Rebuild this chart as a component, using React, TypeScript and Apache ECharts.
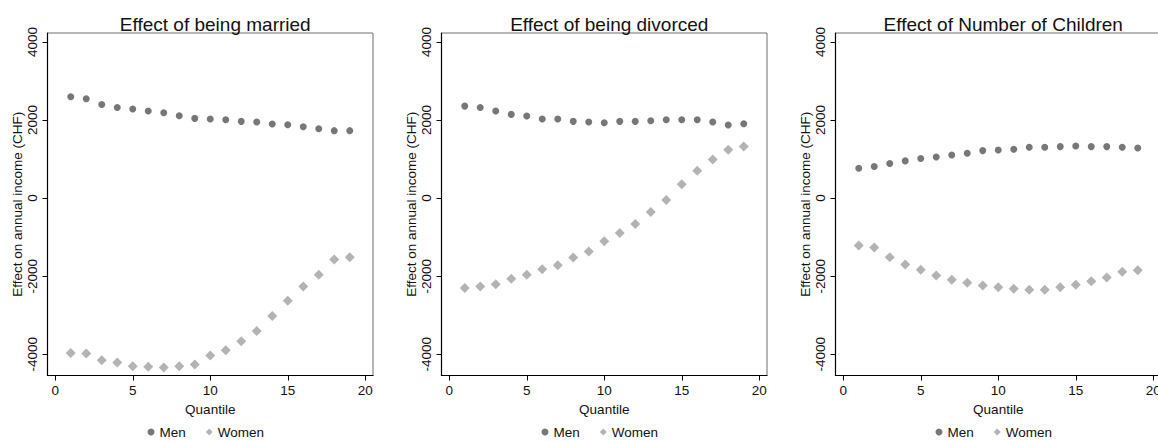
import React, { useEffect, useRef } from "react";
import * as echarts from "echarts";

const quantiles = [1, 2, 3, 4, 5, 6, 7, 8, 9, 10, 11, 12, 13, 14, 15, 16, 17, 18, 19];

const marriedMen = [2596, 2545, 2400, 2323, 2281, 2230, 2187, 2110, 2042, 2025, 2008, 1966, 1949, 1898, 1881, 1830, 1779, 1728, 1728];
const marriedWomen = [-3966, -3983, -4153, -4213, -4306, -4323, -4340, -4306, -4264, -4034, -3898, -3668, -3404, -3021, -2630, -2264, -1966, -1574, -1515];

const divorcedMen = [2357, 2323, 2230, 2145, 2102, 2025, 2025, 1966, 1949, 1932, 1966, 1966, 1983, 2008, 2008, 2008, 1949, 1872, 1906];
const divorcedWomen = [-2306, -2264, -2204, -2068, -1966, -1821, -1719, -1523, -1370, -1106, -894, -664, -357, -51, 357, 698, 987, 1242, 1319];

const childrenMen = [766, 808, 885, 953, 1013, 1055, 1106, 1149, 1217, 1234, 1251, 1302, 1302, 1319, 1336, 1319, 1319, 1302, 1285];
const childrenWomen = [-1217, -1268, -1515, -1702, -1838, -1983, -2094, -2170, -2238, -2281, -2323, -2349, -2349, -2281, -2221, -2128, -2034, -1889, -1847];

const panelTitles = ["Effect of being married", "Effect of being divorced", "Effect of Number of Children"];
const panelMen = [marriedMen, divorcedMen, childrenMen];
const panelWomen = [marriedWomen, divorcedWomen, childrenWomen];

const xTicks = [0, 5, 10, 15, 20];
const yTicks = [-4000, -2000, 0, 2000, 4000];
const seriesNames = ["Men", "Women"];
const xAxisTitle = "Quantile";
const yAxisTitle = "Effect on annual income (CHF)";

const FONT = "'Liberation Sans', Arial, Helvetica, sans-serif";
const MEN_COLOR = "#555555";
const WOMEN_COLOR = "#a0a0a0";

const PANEL_LEFTS = [47.5, 441.5, 835.5];
const PANEL_WIDTH = 325.5;
const PANEL_TOP = 33;
const PANEL_HEIGHT = 342.5;

export default function App() {
  const ref = useRef<HTMLDivElement>(null);

  useEffect(() => {
    if (!ref.current) return;
    const chart = echarts.init(ref.current, null, { renderer: "svg" });

    const grids: any[] = [];
    const xAxes: any[] = [];
    const yAxes: any[] = [];
    const titles: any[] = [];
    const legends: any[] = [];
    const series: any[] = [];

    PANEL_LEFTS.forEach((left, i) => {
      grids.push({
        left,
        top: PANEL_TOP,
        width: PANEL_WIDTH,
        height: PANEL_HEIGHT,
        show: true,
        borderColor: "#6e6e6e",
        borderWidth: 1,
        backgroundColor: "transparent",
        containLabel: false,
        outerBoundsMode: "none",
      });
      xAxes.push({
        type: "value",
        gridIndex: i,
        min: -0.5,
        max: 20.5,
        name: xAxisTitle,
        nameLocation: "middle",
        nameGap: 22,
        nameTextStyle: { fontFamily: FONT, fontSize: 13.5, color: "#111" },
        axisLine: { show: true, onZero: false, lineStyle: { color: "#000", width: 1.2 } },
        axisTick: { show: true, length: 5, customValues: xTicks, lineStyle: { color: "#000" } },
        axisLabel: { customValues: xTicks, fontFamily: FONT, fontSize: 13.5, color: "#111", margin: 8 },
        splitLine: { show: false },
      });
      yAxes.push({
        type: "value",
        gridIndex: i,
        min: -4545,
        max: 4230,
        name: yAxisTitle,
        nameLocation: "middle",
        nameGap: 22,
        nameTextStyle: { fontFamily: FONT, fontSize: 13.5, color: "#111" },
        axisLine: { show: true, onZero: false, lineStyle: { color: "#000", width: 1.2 } },
        axisTick: { show: true, length: 5, customValues: yTicks, lineStyle: { color: "#000" } },
        axisLabel: {
          customValues: yTicks,
          rotate: 90,
          fontFamily: FONT,
          fontSize: 13.5,
          color: "#111",
          margin: 8,
          formatter: (v: number) => String(v),
        },
        splitLine: { show: false },
      });
      titles.push({
        text: panelTitles[i],
        left: left + PANEL_WIDTH / 2,
        top: 10,
        textAlign: "center",
        textStyle: { fontFamily: FONT, fontSize: 19, fontWeight: "normal", color: "#111" },
      });
      legends.push({
        data: seriesNames,
        left: left + 100,
        top: 425,
        padding: 0,
        itemWidth: 7,
        itemHeight: 7,
        itemGap: 20,
        textStyle: { fontFamily: FONT, fontSize: 13.5, color: "#111" },
        selectedMode: false,
      });
      series.push({
        name: seriesNames[0],
        type: "scatter",
        xAxisIndex: i,
        yAxisIndex: i,
        symbol: "circle",
        symbolSize: 7,
        itemStyle: { color: MEN_COLOR },
        data: quantiles.map((q, k) => [q, panelMen[i][k]]),
      });
      series.push({
        name: seriesNames[1],
        type: "scatter",
        xAxisIndex: i,
        yAxisIndex: i,
        symbol: "diamond",
        symbolSize: 10,
        itemStyle: { color: WOMEN_COLOR },
        data: quantiles.map((q, k) => [q, panelWomen[i][k]]),
      });
    });

    chart.setOption({
      animation: false,
      backgroundColor: "#ffffff",
      title: titles,
      legend: legends,
      grid: grids,
      xAxis: xAxes,
      yAxis: yAxes,
      series,
    });

    return () => chart.dispose();
  }, []);

  return (
    <div
      ref={ref}
      style={{ position: "fixed", left: 0, top: 0, width: 1158, height: 441, background: "#fff" }}
    />
  );
}
